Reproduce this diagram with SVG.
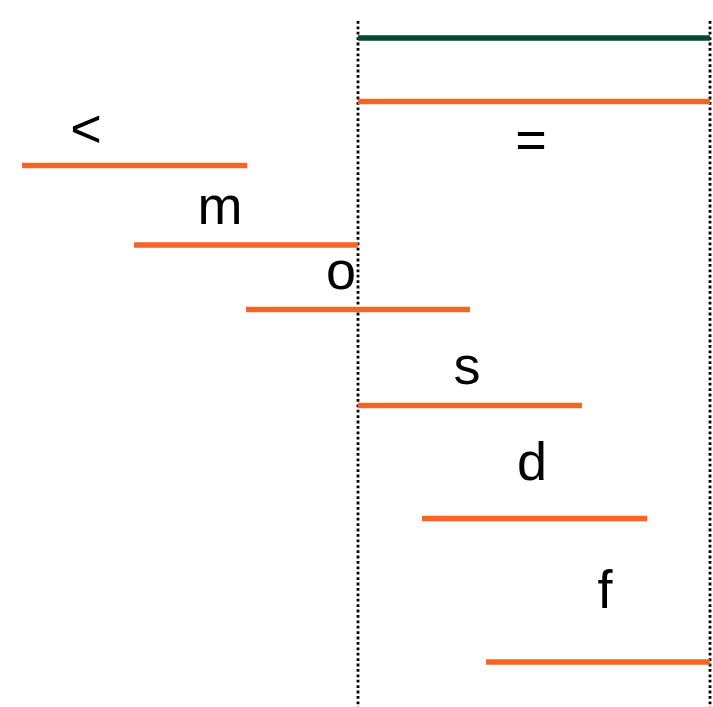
<svg xmlns="http://www.w3.org/2000/svg" width="713" height="707" viewBox="0 0 713 707">
  <style>
    .bar { stroke: #f96325; stroke-width: 5.5; }
    .ref { stroke: #024a2c; stroke-width: 5.5; }
    .guide { stroke: #000; stroke-width: 2.8; stroke-dasharray: 2.8 2.6; fill: none; }
    .lbl { font-family: "Liberation Sans", Arial, sans-serif; font-size: 54px; fill: #000; text-anchor: middle; }
  </style>
  <rect width="713" height="707" fill="#fff"/>

  <!-- dotted guides marking the start and end of the reference interval -->
  <g id="guides">
    <line class="guide" x1="358" y1="21" x2="358" y2="707"/>
    <line class="guide" x1="710" y1="21" x2="710" y2="707"/>
  </g>

  <g id="connectors">
    <!-- reference interval -->
    <line class="ref" x1="358" y1="38" x2="710" y2="38"/>
  </g>

  <g id="equal">
    <line class="bar" x1="358" y1="101.5" x2="710" y2="101.5"/>
    <text class="lbl" x="531" y="158">=</text>
  </g>
  <g id="before">
    <text class="lbl" x="86" y="147">&lt;</text>
    <line class="bar" x1="22" y1="165.5" x2="247" y2="165.5"/>
  </g>
  <g id="meets">
    <text class="lbl" x="220" y="224">m</text>
    <line class="bar" x1="134" y1="245" x2="358" y2="245"/>
  </g>
  <g id="overlaps">
    <text class="lbl" x="341" y="289">o</text>
    <line class="bar" x1="246" y1="309.5" x2="470" y2="309.5"/>
  </g>
  <g id="starts">
    <text class="lbl" x="467" y="384">s</text>
    <line class="bar" x1="358" y1="405.5" x2="582" y2="405.5"/>
  </g>
  <g id="during">
    <text class="lbl" x="532" y="480">d</text>
    <line class="bar" x1="422" y1="518.5" x2="647" y2="518.5"/>
  </g>
  <g id="finishes">
    <text class="lbl" x="605" y="608">f</text>
    <line class="bar" x1="486" y1="662" x2="710" y2="662"/>
  </g>
</svg>
